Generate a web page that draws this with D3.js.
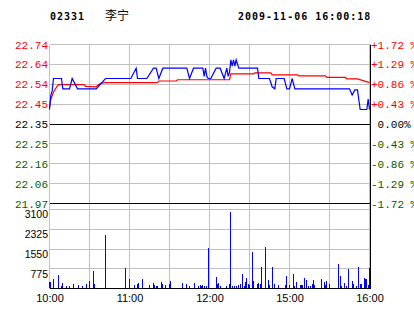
<!DOCTYPE html>
<html>
<head>
<meta charset="utf-8">
<script src="https://cdn.jsdelivr.net/npm/d3@7"></script>
<style>
  body { margin: 0; background: #fff; }
  svg { display: block; }
</style>
</head>
<body>
<svg width="414" height="314"></svg>
<script>
// header
const code = "02331";
const stockName = "李宁";
const stamp = "2009-11-06 16:00:18";

const prevClose = 22.35;
const priceLabels = ["22.74","22.64","22.54","22.45","22.35","22.25","22.16","22.06","21.97"];
const pctLabels = ["+1.72 %","+1.29 %","+0.86 %","+0.43 %"," 0.00%","-0.43 %","-0.86 %","-1.29 %","-1.72 %"];
const volLabels = ["3100","2325","1550","775"];
const volTicks = [3100,2325,1550,775];
const timeLabels = ["10:00","11:00","12:00","15:00","16:00"];
const timeTicks = [0,60,120,180,240];

// price line (minute index from 10:00, HK session 240 min)
const pxMin = [0,1,2,3,9,10,15,17,21,35,42,61,65,66,73,78,80,82,85,103,105,108,115,116,117,118,119,121,125,128,131,133,134,135,136,137,138,139,140,142,156,157,165,167,169,170,176,178,180,182,184,225,227,229,231,233,238,239,240];
const pxVal = [22.42,22.49,22.51,22.57,22.57,22.52,22.52,22.57,22.52,22.52,22.57,22.57,22.62,22.57,22.57,22.62,22.62,22.57,22.62,22.62,22.57,22.62,22.62,22.58,22.62,22.58,22.57,22.57,22.62,22.62,22.57,22.62,22.58,22.60,22.66,22.63,22.66,22.63,22.66,22.62,22.62,22.57,22.57,22.53,22.52,22.57,22.57,22.52,22.52,22.57,22.52,22.52,22.49,22.515,22.515,22.42,22.42,22.47,22.42];

// average price line
const avgMin = [0,1,3,6,7,26,27,35,38,41,81,82,95,96,135,136,153,154,166,167,186,187,207,208,222,223,231,240];
const avgVal = [22.43,22.47,22.505,22.535,22.54,22.54,22.532,22.53,22.545,22.55,22.55,22.558,22.558,22.564,22.564,22.592,22.592,22.597,22.597,22.588,22.588,22.583,22.583,22.575,22.575,22.568,22.568,22.55];

// volume
const volMin = [0,1,3,7,9,10,13,15,18,22,25,28,30,33,34,42,57,60,64,66,67,70,75,78,79,80,81,84,85,87,90,91,100,103,105,109,112,113,114,115,116,118,119,125,126,127,128,133,135,136,137,139,140,142,143,145,146,147,148,149,150,152,153,156,157,158,159,162,164,165,167,169,172,177,178,180,183,184,185,188,189,190,191,193,194,196,197,198,199,204,206,207,208,210,217,218,219,221,223,224,227,228,230,232,233,234,236,237,238,239,240];
const volVal = [260,260,365,520,90,235,90,90,160,125,90,160,290,680,190,2090,800,365,125,160,200,365,125,200,130,90,90,245,165,130,165,285,205,165,90,205,90,130,90,130,90,90,1595,445,165,205,90,90,165,2990,90,90,90,130,165,560,90,245,405,165,130,1435,285,165,205,165,850,1630,320,130,850,165,130,130,480,130,560,90,245,130,130,130,405,320,90,90,165,320,130,365,245,130,285,165,955,480,90,205,90,755,285,165,90,835,165,165,405,365,365,130,800];

const svg = d3.select("svg");
const snap = v => Math.floor(v) + 0.5;

const x = d3.scaleLinear().domain([0,240]).range([49.5,369.5]);
const half = 0.0172 * prevClose;
const y = d3.scaleLinear().domain([prevClose-half, prevClose+half]).range([203.5,44.5]);
const vy = d3.scaleLinear().domain([0,3100]).range([288.5,209.5]);

const priceTicks = priceLabels.map((d,i) => prevClose + half - i*half/4);
const gridX = d3.range(0,241,30);

// grid
const grid = svg.append("g").attr("stroke","#c0c0c0").attr("shape-rendering","crispEdges");
grid.selectAll(".hy").data(priceTicks).enter().append("line")
  .attr("x1",49.5).attr("x2",370.5)
  .attr("y1",d=>snap(y(d))).attr("y2",d=>snap(y(d)));
grid.selectAll(".vy").data(volTicks).enter().append("line")
  .attr("x1",49.5).attr("x2",370.5)
  .attr("y1",d=>snap(vy(d))).attr("y2",d=>snap(vy(d)));
grid.selectAll(".gx").data(gridX).enter().append("line")
  .attr("x1",d=>snap(x(d))).attr("x2",d=>snap(x(d)))
  .attr("y1",44.5).attr("y2",288.5);

// black frame lines
const frame = svg.append("g").attr("stroke","#000").attr("shape-rendering","crispEdges");
frame.append("line").attr("x1",49.5).attr("x2",370.5).attr("y1",snap(y(prevClose))).attr("y2",snap(y(prevClose)));
frame.append("line").attr("x1",49.5).attr("x2",370.5).attr("y1",203.5).attr("y2",203.5);
frame.append("line").attr("x1",49.5).attr("x2",370.5).attr("y1",288.5).attr("y2",288.5);
frame.append("line").attr("x1",370.5).attr("x2",370.5).attr("y1",44.5).attr("y2",288.5);

// volume bars
svg.append("g").selectAll("line").data(volMin.map((m,i)=>[m,volVal[i]])).enter().append("line")
  .attr("stroke","#0000ff").attr("shape-rendering","crispEdges")
  .attr("x1",d=>snap(x(d[0]))).attr("x2",d=>snap(x(d[0])))
  .attr("y1",288).attr("y2",d=>vy(d[1]));

// price + avg lines
const line = d3.line().x(d=>x(d[0])).y(d=>y(d[1]));
svg.append("path").datum(avgMin.map((m,i)=>[m,avgVal[i]]))
  .attr("fill","none").attr("stroke","#ff0000").attr("stroke-width",1.2).attr("d",line);
svg.append("path").datum(pxMin.map((m,i)=>[m,pxVal[i]]))
  .attr("fill","none").attr("stroke","#0000ff").attr("stroke-width",1.2).attr("d",line);

// axis colours
const colorOf = i => i < 4 ? "#ff0000" : (i === 4 ? "#000000" : "#006000");

// left price axis
const left = svg.append("g").attr("transform","translate(48,0)")
  .call(d3.axisLeft(y).tickValues(priceTicks).tickSize(0).tickPadding(0).tickFormat((d,i)=>priceLabels[i]));
left.select(".domain").remove();
left.selectAll("text").attr("font-family","Liberation Mono").attr("font-size",11).attr("fill",(d,i)=>colorOf(i));

// right percent axis
const right = svg.append("g").attr("transform","translate(371,0)")
  .call(d3.axisRight(y).tickValues(priceTicks).tickSize(0).tickPadding(0).tickFormat((d,i)=>pctLabels[i]));
right.select(".domain").remove();
right.selectAll("text").attr("font-family","Liberation Mono").attr("font-size",11).attr("fill",(d,i)=>colorOf(i))
  .attr("xml:space","preserve").style("white-space","pre");

// volume axis
const vol = svg.append("g").attr("transform","translate(48,0)")
  .call(d3.axisLeft(vy).tickValues(volTicks).tickSize(0).tickPadding(0).tickFormat((d,i)=>volLabels[i]));
vol.select(".domain").remove();
vol.selectAll("text").attr("font-family","Liberation Sans").attr("font-size",10.5).attr("fill","#000").attr("dy","0.95em").attr("y",-1.5);

// time axis
const tx = svg.append("g").attr("transform","translate(0,290)")
  .call(d3.axisBottom(x).tickValues(timeTicks).tickSize(0).tickPadding(0).tickFormat((d,i)=>timeLabels[i]));
tx.select(".domain").remove();
tx.selectAll("text").attr("font-family","Liberation Sans").attr("font-size",11).attr("fill","#000").attr("dy","0").attr("y",12);

// header
const head = svg.append("g").attr("font-family","DejaVu Sans Mono").attr("font-weight","bold").attr("font-size",10).attr("letter-spacing",1);
head.append("text").attr("x",50).attr("y",19.5).text(code);
head.append("text").attr("x",238).attr("y",19.5).text(stamp);
svg.append("text").attr("x",105).attr("y",20).attr("font-family","Noto Sans CJK SC").attr("font-size",12).text(stockName);
</script>
</body>
</html>
